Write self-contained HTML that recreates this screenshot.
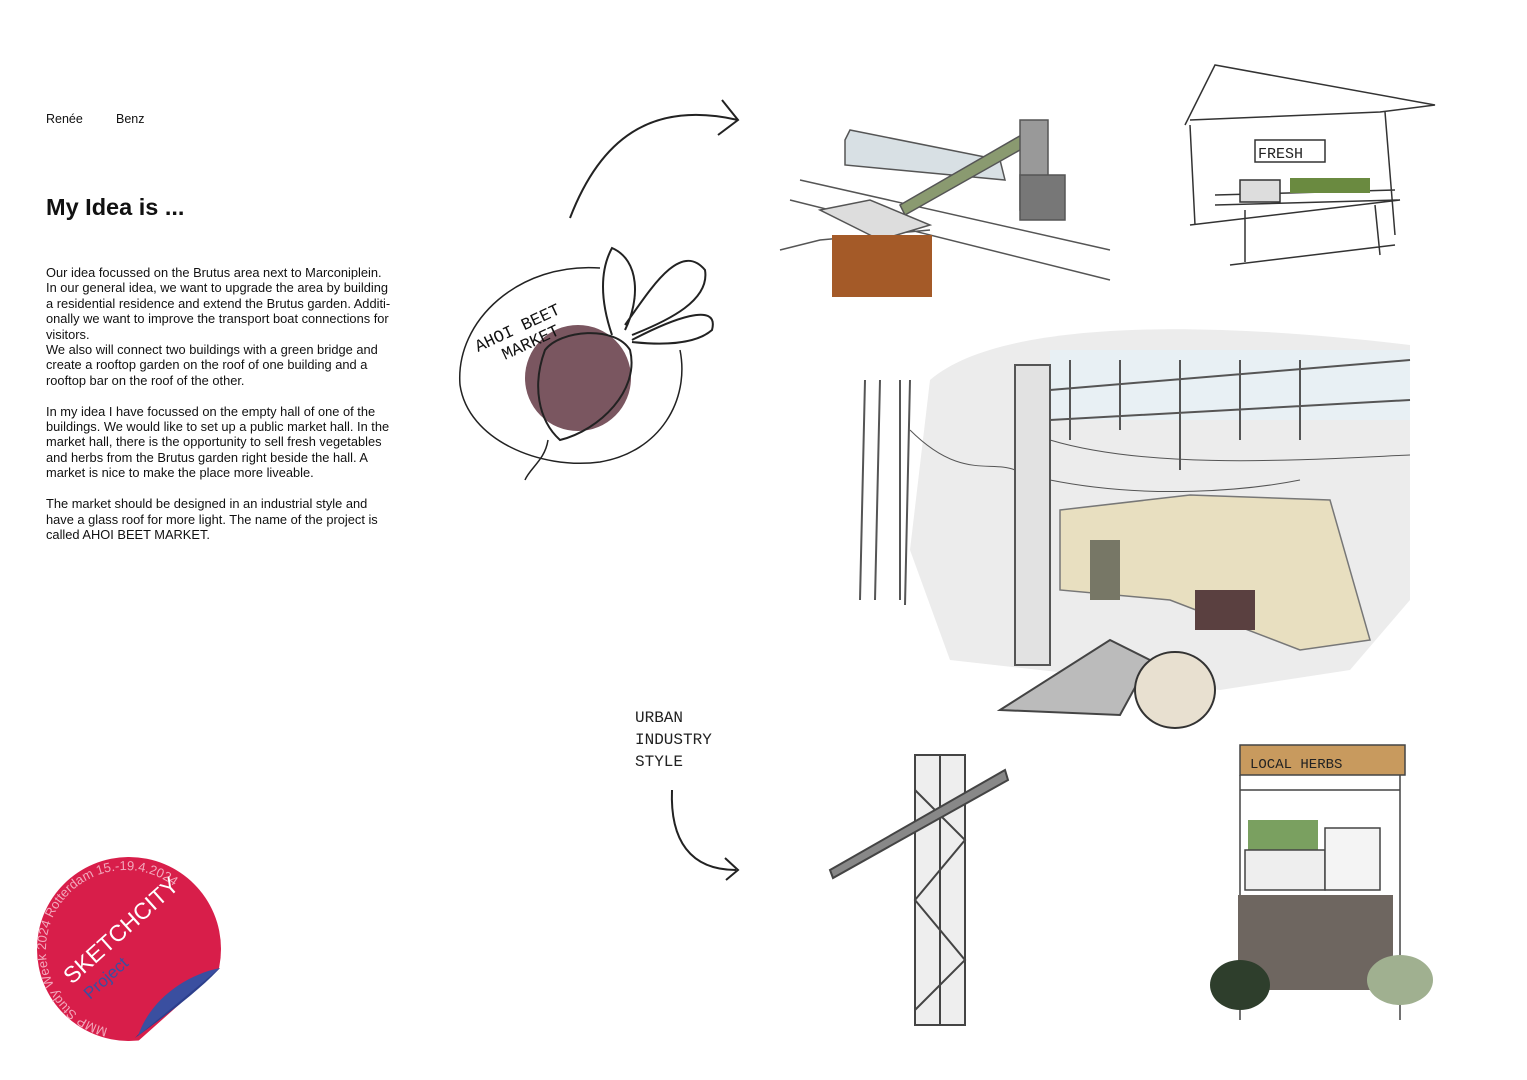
<!DOCTYPE html>
<html><head><meta charset="utf-8"><style>
body{margin:0;width:1527px;height:1080px;background:#fff;position:relative;overflow:hidden;font-family:"Liberation Sans",sans-serif;color:#111}
.t{position:absolute;font-size:12.85px;line-height:15.4px;left:46px;width:400px;white-space:nowrap}
</style></head><body>
<div style="position:absolute;left:46px;top:112px;font-size:12.5px">Renée</div>
<div style="position:absolute;left:116px;top:112px;font-size:12.5px">Benz</div>
<div style="position:absolute;left:46px;top:194px;font-size:23.5px;font-weight:bold">My Idea is ...</div>
<div class="t" style="top:265px">Our idea focussed on the Brutus area next to Marconiplein.<br>In our general idea, we want to upgrade the area by building<br>a residential residence and extend the Brutus garden. Additi-<br>onally we want to improve the transport boat connections for<br>visitors.<br>We also will connect two buildings with a green bridge and<br>create a rooftop garden on the roof of one building and a<br>rooftop bar on the roof of the other.<br><br>In my idea I have focussed on the empty hall of one of the<br>buildings. We would like to set up a public market hall. In the<br>market hall, there is the opportunity to sell fresh vegetables<br>and herbs from the Brutus garden right beside the hall. A<br>market is nice to make the place more liveable.<br><br>The market should be designed in an industrial style and<br>have a glass roof for more light. The name of the project is<br>called AHOI BEET MARKET.</div>
<svg width="1527" height="1080" style="position:absolute;left:0;top:0" fill="none" stroke="#222" stroke-width="2">
<path d="M570 218 C600 140 650 100 738 120"/><path d="M722 100 L738 120 L718 135"/>
<path d="M672 790 C670 840 690 870 736 870"/><path d="M725 858 L738 870 L726 880"/>
<text x="635" y="722" font-family="Liberation Mono" font-size="16" fill="#222" stroke="none">URBAN</text>
<text x="635" y="744" font-family="Liberation Mono" font-size="16" fill="#222" stroke="none">INDUSTRY</text>
<text x="635" y="766" font-family="Liberation Mono" font-size="16" fill="#222" stroke="none">STYLE</text>
<path d="M600 268 C520 262 455 320 460 385 C468 440 540 470 600 462 C660 452 690 400 680 350" stroke-width="1.5"/>
<circle cx="578" cy="378" r="53" fill="#7a5660" stroke="none"/>
<path d="M545 350 C560 330 615 325 630 350 C640 390 600 430 560 440 C538 420 532 385 545 350Z" stroke-width="2"/>
<path d="M548 440 C545 460 530 468 525 480" stroke-width="1.5"/>
<path d="M612 335 C600 300 600 270 612 248 C640 260 640 300 625 330 M625 325 C650 290 680 240 705 270 C710 300 670 320 632 335 M632 340 C670 320 720 300 712 330 C695 345 660 345 632 342" stroke-width="2"/>
<text x="478" y="352" font-family="Liberation Mono" font-size="17" fill="#111" stroke="none" transform="rotate(-25 478 352)">AHOI BEET</text>
<text x="505" y="360" font-family="Liberation Mono" font-size="17" fill="#111" stroke="none" transform="rotate(-25 505 360)">MARKET</text>
<g stroke="#555" stroke-width="1.5">
<path d="M800 180 L1110 250 M790 200 L1110 280 M780 250 L820 240 L930 230"/>
<path d="M845 140 L850 130 L1000 160 L1005 180 L845 165Z" fill="#d8e0e4"/>
<path d="M900 205 L1030 130 L1020 150 L905 215Z" fill="#8a9a70"/>
<rect x="1020" y="120" width="28" height="90" fill="#999"/>
<rect x="1020" y="175" width="45" height="45" fill="#777"/>
<path d="M820 210 L870 200 L930 225 L880 240Z" fill="#ddd"/>
<rect x="832" y="235" width="100" height="62" fill="#a45a28" stroke="none"/>
</g>
<g stroke="#333" stroke-width="1.5">
<path d="M1185 125 L1215 65 L1435 105 L1380 112 L1190 120"/>
<path d="M1190 125 L1195 225 M1385 112 L1395 235 M1215 195 L1395 190 M1215 205 L1400 200 L1190 225 M1245 210 L1245 262 M1375 205 L1380 255 M1230 265 L1395 245"/>
<rect x="1255" y="140" width="70" height="22"/>
<text x="1258" y="158" font-family="Liberation Mono" font-size="15" fill="#222" stroke="none">FRESH</text>
<rect x="1290" y="178" width="80" height="15" fill="#6a8a40" stroke="none"/>
<rect x="1240" y="180" width="40" height="22" fill="#ddd"/>
</g>
<path d="M930 380 C1000 320 1200 320 1410 345 L1410 600 L1350 670 L1220 690 L950 660 L910 550Z" fill="#ececec" stroke="none"/>
<path d="M1050 350 L1410 350 L1410 420 L1050 420Z" fill="#e8f0f4" stroke="none"/>
<g stroke="#555" stroke-width="2">
<path d="M865 380 L860 600 M880 380 L875 600 M900 380 L900 600 M910 380 L905 605"/>
<rect x="1015" y="365" width="35" height="300" fill="#e2e2e2"/>
<path d="M1050 390 L1410 360 M1050 420 L1410 400 M1070 360 L1070 440 M1180 360 L1180 470 M1300 360 L1300 440 M1120 360 L1120 430 M1240 360 L1240 440"/>
<path d="M910 430 C960 480 990 460 1015 470 M1050 440 C1150 470 1300 460 1410 455 M1050 480 C1150 500 1250 490 1300 480" stroke-width="1"/>
</g>
<path d="M1060 510 L1190 495 L1330 500 L1370 640 L1300 650 L1170 600 L1060 590Z" fill="#e8dfc0" stroke="#777" stroke-width="1.5"/>
<rect x="1195" y="590" width="60" height="40" fill="#5a4040" stroke="none"/>
<rect x="1090" y="540" width="30" height="60" fill="#776" stroke="none"/>
<path d="M1000 710 L1110 640 L1150 660 L1120 715Z" fill="#bbb" stroke="#444"/>
<ellipse cx="1175" cy="690" rx="40" ry="38" fill="#e8e0d0" stroke="#333" stroke-width="2"/>
<g stroke="#444" stroke-width="2">
<rect x="915" y="755" width="50" height="270" fill="#eee"/>
<path d="M915 790 L965 840 L915 900 L965 960 L915 1010 M940 755 L940 1025"/>
<path d="M830 870 L1005 770 L1008 780 L833 878Z" fill="#888"/>
</g>
<g stroke="#444" stroke-width="1.5">
<rect x="1240" y="745" width="165" height="30" fill="#c89a5e"/>
<text x="1250" y="768" font-family="Liberation Mono" font-size="14" fill="#222" stroke="none">LOCAL HERBS</text>
<path d="M1240 775 L1240 1020 M1400 775 L1400 1020 M1240 790 L1400 790"/>
<rect x="1248" y="820" width="70" height="30" fill="#7aa060" stroke="none"/>
<rect x="1245" y="850" width="80" height="40" fill="#eee"/>
<rect x="1325" y="828" width="55" height="62" fill="#f4f4f4"/>
<rect x="1238" y="895" width="155" height="95" fill="#6e6660" stroke="none"/>
<ellipse cx="1240" cy="985" rx="30" ry="25" fill="#2e3e2c" stroke="none"/>
<ellipse cx="1400" cy="980" rx="33" ry="25" fill="#a0b090" stroke="none"/>
</g>
</svg>
<div style="position:absolute;left:37px;top:857px;width:184px;height:184px;border-radius:50%;background:#d81e4a;clip-path:polygon(0 0,100% 0,100% 60%,55% 100%,0 100%)"></div>
<svg width="1527" height="1080" style="position:absolute;left:0;top:0">
<defs><path id="arc" d="M108 1028 A80 80 0 1 1 205 938"/></defs>
<path d="M220 968 C200 990 160 1020 135 1038 C160 1010 180 990 220 968Z" fill="#2c3f8c"/>
<path d="M220 968 L138 1036 C150 1000 185 975 220 968Z" fill="#3a4fa0"/>
<text font-family="Liberation Sans" font-size="13" fill="#f2a8bc"><textPath href="#arc">MMP Study Week 2024 Rotterdam 15.-19.4.2024</textPath></text>
<text x="72" y="985" font-family="Liberation Sans" font-size="23" fill="#fff" transform="rotate(-42 72 985)">SKETCHCITY</text>
<text x="90" y="1000" font-family="Liberation Sans" font-size="17" fill="#3a4fa0" transform="rotate(-42 90 1000)">Project</text>
</svg>
</body></html>
